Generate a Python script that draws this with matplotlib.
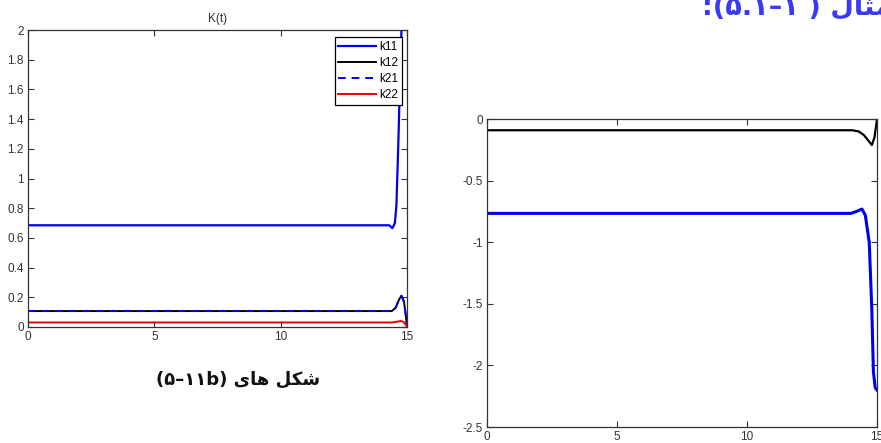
import matplotlib
matplotlib.use("Agg")
import matplotlib.pyplot as plt

# values
# left panel: K(t)
t_k11 = [0, 14.3, 14.42, 14.52, 14.58, 14.65, 14.72, 14.78, 14.84]
k11 = [0.685, 0.685, 0.665, 0.70, 0.82, 1.2, 1.65, 2.0, 2.4]
t_k12 = [0, 14.4, 14.55, 14.7, 14.78, 14.88, 14.95, 15]
k12 = [0.107, 0.107, 0.13, 0.19, 0.21, 0.17, 0.08, 0.0]
k21 = [0.107, 0.107, 0.13, 0.19, 0.21, 0.17, 0.08, 0.0]
t_k22 = [0, 14.4, 14.6, 14.75, 14.85, 14.95, 15]
k22 = [0.03, 0.03, 0.035, 0.04, 0.035, 0.015, 0.0]
left_yticks = [0, 0.2, 0.4, 0.6, 0.8, 1, 1.2, 1.4, 1.6, 1.8, 2]
left_ylabels = ["0", "0.2", "0.4", "0.6", "0.8", "1", "1.2", "1.4", "1.6", "1.8", "2"]

# right panel
t_black = [0, 14.05, 14.3, 14.5, 14.65, 14.8, 14.9, 15]
black = [-0.09, -0.09, -0.10, -0.13, -0.17, -0.21, -0.15, 0.0]
t_blue = [0, 14.0, 14.2, 14.42, 14.55, 14.7, 14.8, 14.86, 14.93, 15]
blue = [-0.765, -0.765, -0.75, -0.73, -0.78, -1.0, -1.55, -2.05, -2.18, -2.2]
right_yticks = [0, -0.5, -1, -1.5, -2, -2.5]
right_ylabels = ["0", "-0.5", "-1", "-1.5", "-2", "-2.5"]
xticks = [0, 5, 10, 15]

# persian texts, written in visual (left to right) order with shaped glyphs
caption = "(\u06f5\u2013\u06f1\u06f1b) \ufeef\ufe8e\ufeeb \ufede\ufb91\ufeb7"
heading = ":(\u06f5.\u06f1\u2013\u06f1 ) \ufedd\ufe8e\ufe9c\ufee3"

plt.rcParams["font.family"] = ["Liberation Sans", "DejaVu Sans"]

fig = plt.figure(figsize=(8.81, 4.43), dpi=100)

def style_axes(ax):
    ax.tick_params(direction="in", top=True, right=True, length=4, width=0.8,
                   labelsize=8.5, colors="#333333", pad=3)
    for s in ax.spines.values():
        s.set_color("#333333")
        s.set_linewidth(0.9)

ax1 = fig.add_axes([0.0318, 0.262, 0.4302, 0.670])
ax1.plot(t_k11, k11, color="#0000ee", lw=1.6, label="k11")
ax1.plot(t_k12, k12, color="black", lw=1.4, label="k12")
ax1.plot(t_k12, k21, color="#0000ee", lw=1.4, ls=(0, (4, 3)), label="k21")
ax1.plot(t_k22, k22, color="#ee0000", lw=1.4, label="k22")
ax1.set_xlim(0, 15)
ax1.set_ylim(0, 2)
ax1.set_xticks(xticks)
ax1.set_yticks(left_yticks)
ax1.set_yticklabels(left_ylabels)
ax1.set_title("K(t)", fontsize=8.5, pad=6, color="#333333")
style_axes(ax1)
leg = ax1.legend(loc="upper right", bbox_to_anchor=(0.987, 0.976), borderaxespad=0,
                 fontsize=8.5, handlelength=3.2, labelspacing=0.35, handletextpad=0.3,
                 borderpad=0.3, fancybox=False, framealpha=1)
leg.get_frame().set_edgecolor("black")
leg.get_frame().set_linewidth(0.9)

ax2 = fig.add_axes([0.5528, 0.036, 0.4427, 0.695])
ax2.plot(t_black, black, color="black", lw=1.6)
ax2.plot(t_blue, blue, color="#0000ee", lw=2.2)
ax2.set_xlim(0, 15)
ax2.set_ylim(-2.5, 0)
ax2.set_xticks(xticks)
ax2.set_yticks(right_yticks)
ax2.set_yticklabels(right_ylabels)
style_axes(ax2)

fig.text(0.270, 0.142, caption, ha="center", va="center", fontsize=13,
         fontweight="bold", family=["DejaVu Sans"], color="#111111")
fig.text(0.797, 0.968, heading, ha="left", va="baseline", fontsize=19.5,
         fontweight="bold", family=["DejaVu Sans"], color="#3a3af5")

fig.savefig("out.png", dpi=100)
